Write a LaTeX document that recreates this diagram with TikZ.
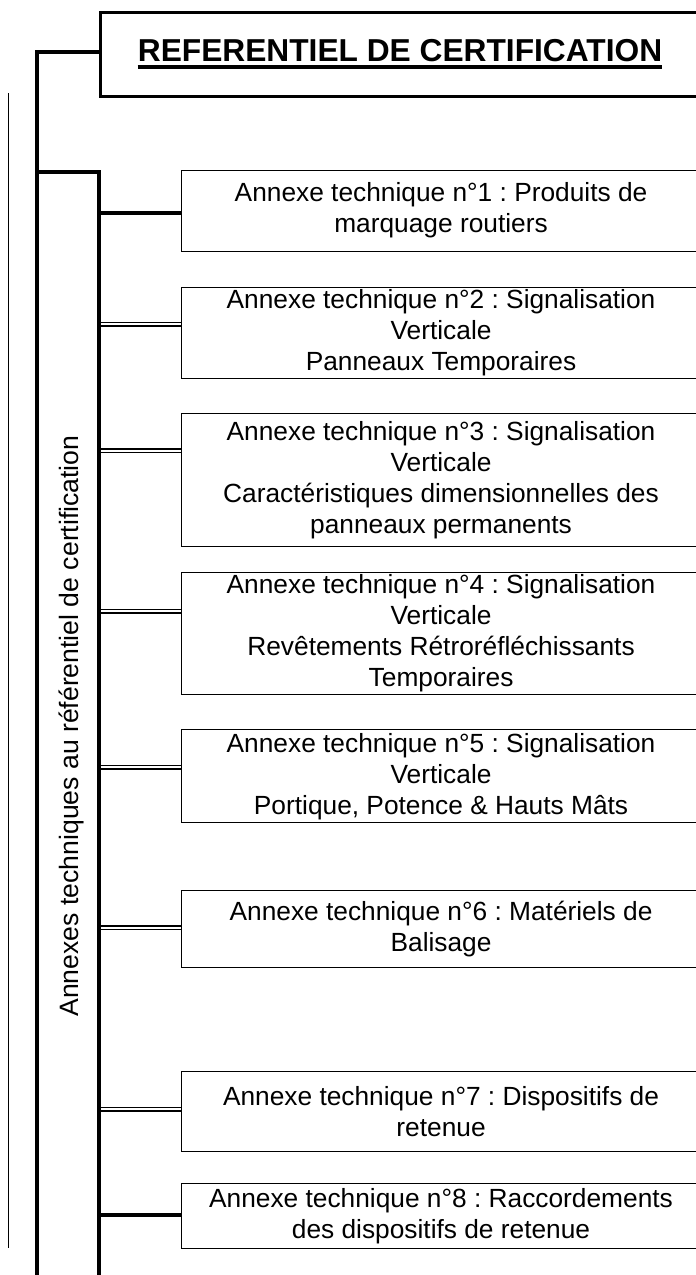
\documentclass[tikz,border=0pt]{standalone}
\usepackage{fontspec}
\setmainfont{Liberation Sans}
\usetikzlibrary{backgrounds}
\frenchspacing
\newcommand\annexfont{\fontsize{26.3}{31}\selectfont}
\newcommand\mytitlefont{\fontsize{31.7}{38}\selectfont\bfseries}
\newcommand\sidefont{\fontsize{26.6}{32}\selectfont}
\tikzset{
  annexbox/.style={draw, line width=1.1pt, inner sep=0pt, anchor=north west,
    minimum width=519pt, align=center, font=\annexfont},
  titleframe/.style={draw, line width=2.8pt, inner sep=0pt, anchor=north west,
    minimum width=600.7pt, minimum height=83.7pt},
  thickbar/.style={line width=4pt},
  dblconn/.style={double, line width=1.6pt, double distance=1.8pt},
  thinrule/.style={line width=1pt},
}
\begin{document}
\begin{tikzpicture}[x=1pt,y=-1pt]
\useasboundingbox (0,0) rectangle (696,1275);
\clip (0,0) rectangle (696,1275);

% title
\node[titleframe] (titlebox) at (99.3,11.3) {};
\node[font=\mytitlefont, inner sep=0pt, anchor=base] (title) at (400,61.7) {REFERENTIEL DE CERTIFICATION};
\draw[line width=3.5pt] ([yshift=-5.3pt]title.base west) -- ([yshift=-5.3pt]title.base east);

% main bars
\coordinate (m0) at (37,52.3);
\coordinate (m1) at (37,1290);
\draw[thickbar] (titlebox.west |- m0) -- (m0) -- (m1);
\coordinate (s0) at (37,171.7);
\coordinate (s1) at (99.3,171.7);
\coordinate (s2) at (99.3,1290);
\draw[thickbar] (s0) -- (s1) -- (s2);

% thin left rule
\coordinate (t0) at (8.3,93);
\coordinate (t1) at (8.3,1248);
\draw[thinrule] (t0) -- (t1);

% side label
\node[font=\sidefont, rotate=90, anchor=base, inner sep=0pt] (side) at (78.3,726)
  {Annexes techniques au référentiel de certification};

% annex boxes
\node[annexbox, minimum height=81.2pt] (b1) at (181,169.5)
  {Annexe technique n°1 : Produits de\\marquage routiers};
\node[annexbox, minimum height=91pt] (b2) at (181,286.7)
  {Annexe technique n°2 : Signalisation\\Verticale\\Panneaux Temporaires};
\node[annexbox, minimum height=132.4pt] (b3) at (181,413.3)
  {Annexe technique n°3 : Signalisation\\Verticale\\Caractéristiques dimensionnelles des\\panneaux permanents};
\node[annexbox, minimum height=122.6pt] (b4) at (181,571.7)
  {Annexe technique n°4 : Signalisation\\Verticale\\Revêtements Rétroréfléchissants\\Temporaires};
\node[annexbox, minimum height=93pt] (b5) at (181,729.3)
  {Annexe technique n°5 : Signalisation\\Verticale\\Portique, Potence \& Hauts Mâts};
\node[annexbox, minimum height=76.7pt] (b6) at (181,890)
  {Annexe technique n°6 : Matériels de\\Balisage};
\node[annexbox, minimum height=80pt] (b7) at (181,1070.7)
  {Annexe technique n°7 : Dispositifs de\\retenue};
\node[annexbox, minimum height=65pt] (b8) at (181,1182.7)
  {Annexe technique n°8 : Raccordements\\des dispositifs de retenue};

% connectors
\begin{scope}[on background layer]
\coordinate (k1) at (99.3,212.7);
\coordinate (k2) at (101.3,324);
\coordinate (k3) at (101.3,450.7);
\coordinate (k4) at (101.3,611.3);
\coordinate (k5) at (101.3,767);
\coordinate (k6) at (101.3,927.7);
\coordinate (k7) at (101.3,1109);
\coordinate (k8) at (99.3,1214.8);
\draw[thickbar] (k1) -- (k1 -| b1.west);
\draw[dblconn] (k2) -- (k2 -| b2.west);
\draw[dblconn] (k3) -- (k3 -| b3.west);
\draw[dblconn] (k4) -- (k4 -| b4.west);
\draw[dblconn] (k5) -- (k5 -| b5.west);
\draw[dblconn] (k6) -- (k6 -| b6.west);
\draw[dblconn] (k7) -- (k7 -| b7.west);
\draw[thickbar] (k8) -- (k8 -| b8.west);
\end{scope}
\end{tikzpicture}
\end{document}
